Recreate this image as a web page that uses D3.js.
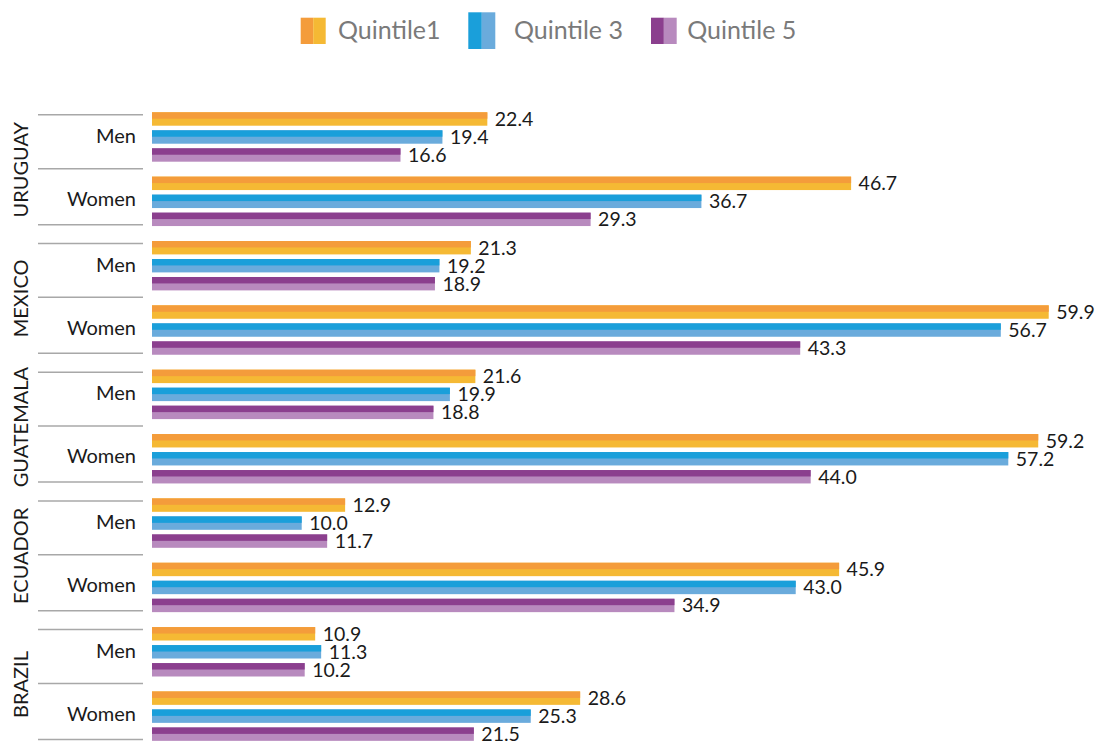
<!DOCTYPE html>
<html>
<head>
<meta charset="utf-8">
<script src="https://cdn.jsdelivr.net/npm/d3@7"></script>
<style>
  html, body { margin: 0; padding: 0; background: #fff; }
  svg { display: block; font-family: Lato, "Open Sans", sans-serif; }
</style>
</head>
<body>
<svg id="chart" width="1097" height="743"></svg>
<script>
// ---- data ----
const countries = ["URUGUAY", "MEXICO", "GUATEMALA", "ECUADOR", "BRAZIL"];
const genders = ["Men", "Women"];
const seriesNames = ["Quintile1", "Quintile 3", "Quintile 5"];
const quintile1 = [22.4, 46.7, 21.3, 59.9, 21.6, 59.2, 12.9, 45.9, 10.9, 28.6];
const quintile3 = [19.4, 36.7, 19.2, 56.7, 19.9, 57.2, 10.0, 43.0, 11.3, 25.3];
const quintile5 = [16.6, 29.3, 18.9, 43.3, 18.8, 44.0, 11.7, 34.9, 10.2, 21.5];

const seriesValues = [quintile1, quintile3, quintile5];
const darkColors = ["#F49C3B", "#1A9FDA", "#8B3F8E"];
const lightColors = ["#F5B934", "#6AABDC", "#B88ABE"];

const svg = d3.select("#chart");

// rows: each (country, gender) pair
const rows = [];
countries.forEach((c, ci) => genders.forEach((g, gi) => rows.push({ country: c, gender: g, idx: ci * 2 + gi })));

const x = d3.scaleLinear().domain([0, 60]).range([152, 1050.2]);
const y = d3.scaleBand().domain(rows.map(r => r.idx)).range([112.3, 112.3 + 64.35 * rows.length]).paddingInner(0).paddingOuter(0);
const ySub = d3.scaleBand().domain(seriesNames).range([0, 49.4]).paddingInner(0.255).paddingOuter(0);
const bh = ySub.bandwidth();

// bars
const rowG = svg.append("g").selectAll("g.row").data(rows).join("g")
  .attr("class", "row")
  .attr("transform", d => `translate(0,${y(d.idx)})`);

seriesNames.forEach((s, si) => {
  const vals = seriesValues[si];
  // light full bar
  rowG.append("rect")
    .attr("x", x(0))
    .attr("y", ySub(s))
    .attr("width", d => x(vals[d.idx]) - x(0))
    .attr("height", bh)
    .attr("fill", lightColors[si]);
  // dark top half
  rowG.append("rect")
    .attr("x", x(0))
    .attr("y", ySub(s))
    .attr("width", d => x(vals[d.idx]) - x(0))
    .attr("height", bh * 0.48)
    .attr("fill", darkColors[si]);
  // value label
  rowG.append("text")
    .attr("x", d => x(vals[d.idx]) + 7.5)
    .attr("y", ySub(s) + bh / 2 + 7)
    .attr("font-size", 19.5)
    .attr("fill", "#1a1a1a")
    .text(d => vals[d.idx].toFixed(1));
});

// category axis (two level)
const axisG = svg.append("g");
const lineColor = "#a8a8a8";
countries.forEach((c, ci) => {
  const menTop = y(ci * 2);
  const womenTop = y(ci * 2 + 1);
  const lines = [menTop + 2.5, womenTop - 8, womenTop + 48];
  lines.forEach(ly => {
    axisG.append("line")
      .attr("x1", 38).attr("x2", 143)
      .attr("y1", ly).attr("y2", ly)
      .attr("stroke", lineColor).attr("stroke-width", 1.5);
  });
  const cy = (menTop + 2.5 + womenTop + 48) / 2;
  axisG.append("text")
    .attr("transform", `translate(28,${cy}) rotate(-90)`)
    .attr("text-anchor", "middle")
    .attr("font-size", 20)
    .attr("fill", "#1a1a1a")
    .text(c);
});
rows.forEach(r => {
  axisG.append("text")
    .attr("x", 136)
    .attr("y", y(r.idx) + 49.4 / 2 + (r.gender === "Men" ? 6 : 4.5))
    .attr("text-anchor", "end")
    .attr("font-size", 20)
    .attr("fill", "#1a1a1a")
    .text(r.gender);
});

// legend
const legendItems = [
  { name: seriesNames[0], sx: 300.7, sy: 17.7, sw: 25, sh: 26.3, tx: 338 },
  { name: seriesNames[1], sx: 468.3, sy: 12.3, sw: 27, sh: 36.7, tx: 514 },
  { name: seriesNames[2], sx: 651, sy: 17.7, sw: 25.7, sh: 26.3, tx: 687.3 }
];
const lg = svg.append("g");
legendItems.forEach((it, i) => {
  lg.append("rect").attr("x", it.sx).attr("y", it.sy).attr("width", it.sw / 2).attr("height", it.sh).attr("fill", darkColors[i]);
  lg.append("rect").attr("x", it.sx + it.sw / 2).attr("y", it.sy).attr("width", it.sw / 2).attr("height", it.sh).attr("fill", lightColors[i]);
  lg.append("text").attr("x", it.tx).attr("y", 38.5).attr("font-size", 25).attr("fill", "#7a7a7a").text(it.name);
});
</script>
</body>
</html>
